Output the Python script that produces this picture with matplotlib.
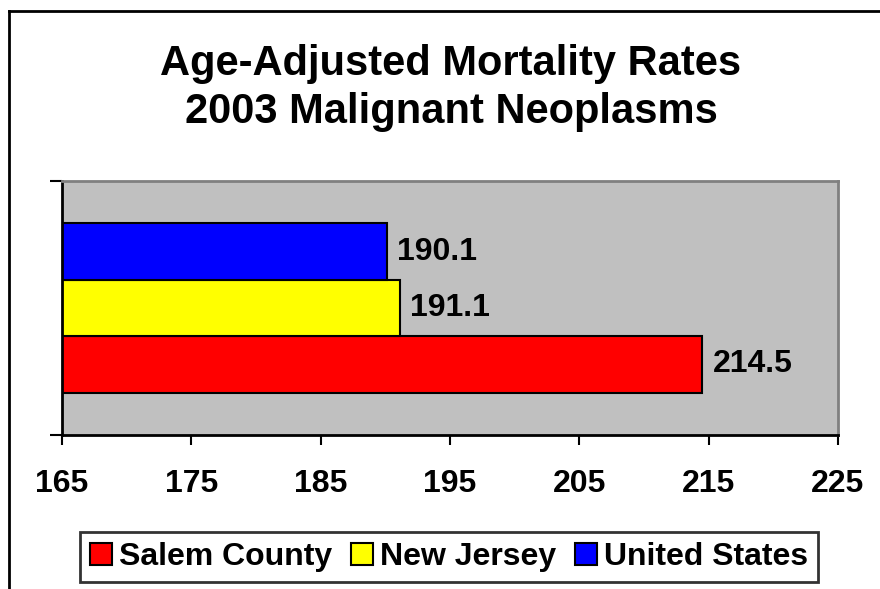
import matplotlib
matplotlib.use("Agg")
import matplotlib.pyplot as plt
from matplotlib.patches import Rectangle
from matplotlib.lines import Line2D

plt.rcParams['font.family'] = ['Liberation Sans', 'DejaVu Sans']

series = ["Salem County", "New Jersey", "United States"]
values = [214.5, 191.1, 190.1]
colors = ["#FF0000", "#FFFF00", "#0000FF"]
xticks = [165, 175, 185, 195, 205, 215, 225]
title = "Age-Adjusted Mortality Rates\n2003 Malignant Neoplasms"

W, H = 880, 589
fig = plt.figure(figsize=(W / 100, H / 100), dpi=100)
ax = fig.add_axes([62 / W, 1 - 435 / H, (838 - 62) / W, (435 - 181) / H])
ax.set_facecolor("#C0C0C0")

xmin = xticks[0]
bh = 0.222
offsets = [-bh, 0.0, bh]
for name, v, c, off in zip(series, values, colors, offsets):
    ax.barh(off, v - xmin, left=xmin, height=bh, color=c, edgecolor="black",
            linewidth=1.5, label=name)
    ax.text(v + 0.8, off, f"{v:.1f}", va="center", ha="left",
            fontsize=23, fontweight="bold")

ax.set_xlim(xticks[0], xticks[-1])
ax.set_ylim(-0.5, 0.5)
ax.set_xticks(xticks)
ax.set_xticklabels([str(t) for t in xticks], fontsize=23, fontweight="bold")
ax.set_yticks([-0.5, 0.5])
ax.set_yticklabels([])
ax.tick_params(axis="x", direction="out", length=7.5, width=1.5, pad=17)
ax.tick_params(axis="y", direction="out", length=8.5, width=1.5)
for s in ["top", "right"]:
    ax.spines[s].set_color("#808080")
    ax.spines[s].set_linewidth(2)
for s in ["bottom", "left"]:
    ax.spines[s].set_color("black")
    ax.spines[s].set_linewidth(2)

fig.text(451 / W, 1 - 88 / H, title, ha="center", va="center", fontsize=30,
         fontweight="bold", linespacing=1.28)

# outer chart frame
fig.add_artist(Line2D([9 / W, 9 / W], [0, 1 - 11 / H], transform=fig.transFigure,
                      color="black", linewidth=2))
fig.add_artist(Line2D([9 / W, 1], [1 - 11 / H, 1 - 11 / H], transform=fig.transFigure,
                      color="black", linewidth=2))

handles = [Rectangle((0, 0), 1, 1, facecolor=c, edgecolor="black", linewidth=1.5)
           for c in colors]
leg = fig.legend(handles, series, loc="center", bbox_to_anchor=(449 / W, 1 - 557 / H),
                 ncol=3, frameon=True, fancybox=False, edgecolor="black",
                 prop={"size": 23, "weight": "bold"}, handlelength=0.7,
                 handleheight=0.7, handletextpad=0.2, columnspacing=0.6,
                 borderpad=0.32, borderaxespad=0)
leg.get_frame().set_linewidth(2)

fig.savefig("out.png", dpi=100)
